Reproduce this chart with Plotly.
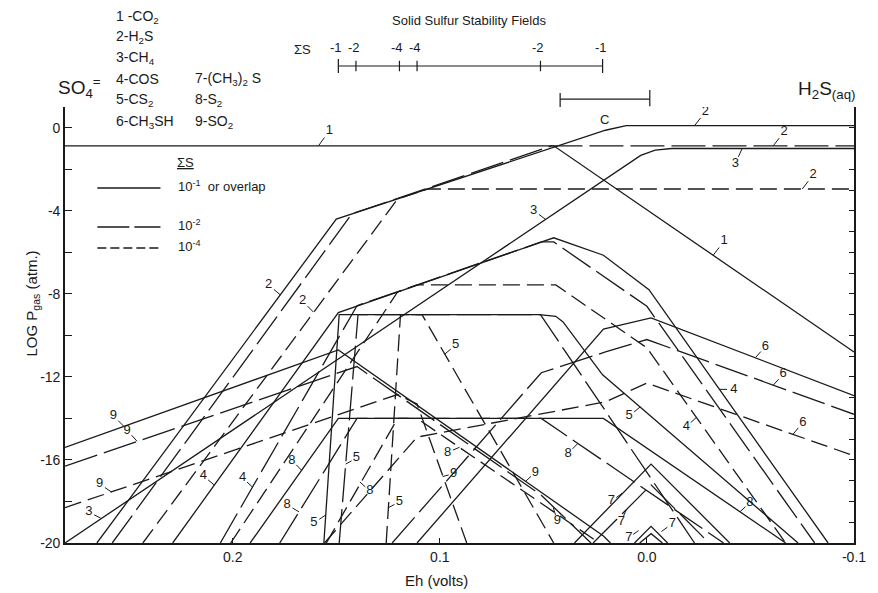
import plotly.graph_objects as go

# ---------------- axes ----------------
EH_RANGE = [0.281, -0.1]
LP_RANGE = [-20, 1.0]
x_tick_vals = [0.2, 0.1, 0.0, -0.1]
x_tick_text = ["0.2", "0.1", "0.0", "-0.1"]
y_tick_vals = [-20, -18, -16, -14, -12, -10, -8, -6, -4, -2, 0]
y_tick_text = ["-20", "", "-16", "", "-12", "", "-8", "", "-4", "", "0"]
y2_tick_vals = list(range(-19, 1))

# solid sulfur stability field boundaries (Eh) and carbon field
sfield_text = ["-1", "-2", "-4", "-4", "-2", "-1"]
sfield_eh = [0.149, 0.1405, 0.1195, 0.111, 0.0514, 0.0214]
cfield_eh = [0.0419, -0.0014]

# ---------------- curves (Eh, log P) ----------------
# 1 CO2
co2_eh = [0.281, 0.045, -0.1]
co2_lp = [-0.87, -0.87, -10.8]
# 2 H2S
h2s_1_eh = [0.2656, 0.150, 0.020, 0.010, -0.1]
h2s_1_lp = [-20, -4.4, -0.12, 0.1, 0.1]
h2s_2_eh = [0.2582, 0.1425, 0.046, -0.1]
h2s_2_lp = [-20, -4.15, -0.87, -0.87]
h2s_4_eh = [0.2434, 0.1204, 0.106, -0.1]
h2s_4_lp = [-20, -3.43, -2.95, -2.95]
# 3 CH4
ch4_eh = [0.281, 0.107, 0.003, -0.004, -0.012, -0.1]
ch4_lp = [-20, -8.3, -1.33, -1.08, -1.0, -1.0]
# 9 SO2
so2_1_eh = [0.281, 0.149, 0.021, 0.0176]
so2_1_lp = [-15.4, -10.7, -19.66, -20]
so2_2_eh = [0.281, 0.140, 0.051, 0.027]
so2_2_lp = [-16.3, -11.5, -17.7, -20]
so2_4_eh = [0.281, 0.1204, 0.111, 0.087]
so2_4_lp = [-18.3, -12.85, -13.3, -20]
# 8 S2
s2_1_eh = [0.1916, 0.149, 0.021, -0.067]
s2_1_lp = [-20, -14, -14, -20]
s2_2_eh = [0.1773, 0.140, 0.051, -0.037]
s2_2_lp = [-20, -14, -14, -20]
s2_4_eh = [0.1548, 0.1204, 0.111, 0.023]
s2_4_lp = [-20, -14, -14, -20]
# 5 CS2
cs2_1_eh = [0.156, 0.1486, 0.052, 0.044, 0.0405, 0.0214, 0.0033, -0.073]
cs2_1_lp = [-20, -9.0, -9.0, -9.08, -9.35, -11.9, -13.45, -20]
cs2_2_eh = [0.1486, 0.1395, 0.0514, -0.023]
cs2_2_lp = [-20, -9.0, -9.0, -20]
cs2_4_eh = [0.1259, 0.119, 0.1086, 0.045]
cs2_4_lp = [-20, -9.0, -9.0, -20]
# 4 COS
cos_1_eh = [0.229, 0.149, 0.045, 0.021, -0.001, -0.0875]
cos_1_lp = [-20, -8.9, -5.3, -6.14, -7.8, -20]
cos_2_eh = [0.206, 0.140, 0.051, 0.045, 0.0, -0.081]
cos_2_lp = [-20, -8.57, -5.5, -5.5, -8.6, -20]
cos_4_eh = [0.201, 0.1204, 0.111, 0.044, 0.0, -0.067]
cos_4_lp = [-20, -7.91, -7.57, -7.57, -10.6, -20]
# 6 CH3SH
ch3sh_1_eh = [0.111, 0.021, -0.002, -0.1]
ch3sh_1_lp = [-20, -9.7, -9.16, -12.9]
ch3sh_2_eh = [0.123, 0.051, 0.02, 0.0, -0.1]
ch3sh_2_lp = [-20, -11.8, -10.8, -10.2, -13.8]
ch3sh_4_eh = [0.1557, 0.111, 0.02, 0.0, -0.1]
ch3sh_4_lp = [-20, -14.9, -13.2, -12.3, -15.8]
# 7 (CH3)2S
dms_1_eh = [0.035, -0.002, -0.040]
dms_1_lp = [-20, -16.2, -20]
dms_2_eh = [0.026, -0.002, -0.030]
dms_2_lp = [-20, -17.2, -20]
dms_4_eh = [0.006, -0.002, -0.010]
dms_4_lp = [-20, -19.2, -20]
dms_4b_eh = [0.0035, -0.002, -0.0075]
dms_4b_lp = [-20, -19.55, -20]

# curve labels: text, Eh, logP of the point on the curve
lbl_text = ["1", "1", "2", "2", "3", "2", "3", "2", "2",
            "9", "9", "9", "3", "4", "4", "8", "8", "5", "5", "8", "5",
            "8", "9", "5", "9", "8", "9", "7", "7", "7", "7", "8",
            "5", "4", "4", "6", "6", "6"]
lbl_eh = [0.1586, -0.032, -0.023, -0.061, -0.046, -0.075, 0.049, 0.177, 0.161,
          0.2524, 0.2462, 0.2586, 0.2638, 0.209, 0.1905, 0.1667, 0.168, 0.1551, 0.1455, 0.1386, 0.1248,
          0.0905, 0.0986, 0.0976, 0.0586, 0.0333, 0.0452, 0.0119, 0.010, 0.004, -0.007, -0.045,
          0.0033, -0.0348, -0.0238, -0.0524, -0.061, -0.0705]
lbl_lp = [-0.87, -6.14, 0.1, -0.87, -1.0, -2.95, -4.41, -8.05, -8.88,
          -14.4, -15.1, -17.54, -18.8, -17.2, -17.3, -16.5, -18.5, -18.65, -16.2, -17.06, -18.3,
          -15.39, -16.8, -10.9, -17.03, -15.2, -18.3, -17.6, -18.4, -19.4, -19.45, -18.49,
          -13.45, -12.6, -13.96, -11.07, -12.4, -14.77]
# label offset from the curve point, in screen pixels (right, down)
lbl_dx = [11, 11, 11, 11, -7, 11, -12, -12, -11,
          -11, -10, -12, -12, -11, -10, -10, -12, -12, 11, 10, 11,
          -12, 11, 11, 10, -10, 4, -11, -5, -10, 11, 10,
          -11, 15, -10, 10, 10, 10]
lbl_dy = [-15, -14, -14, -14, 15, -14, -9, -10, -11,
          -11, -11, -8, -6, -9, -9, -10, -7, 8, -6, 9, -6,
          5, -3, -9, -9, 10, 13, 8, 12, 7, -8, -9,
          9, 0, 9, -11, -11, -12]

# ---------------- styles ----------------
INK = "#1a1a1a"
LW = 1.3
D1 = "solid"
D2 = "34px,7px"
D4 = "17px,7px"
LEG_DASH = ["solid", "32px,5px", "9px,4px"]
FONT = "Liberation Sans, Arial, sans-serif"

PLOT_W, PLOT_H = 800, 436
EH_PER_PX = (EH_RANGE[0] - EH_RANGE[1]) / PLOT_W
LP_PER_PX = (LP_RANGE[1] - LP_RANGE[0]) / PLOT_H

curves = [
    (co2_eh, co2_lp, D1),
    (h2s_1_eh, h2s_1_lp, D1), (h2s_2_eh, h2s_2_lp, D2), (h2s_4_eh, h2s_4_lp, D4),
    (ch4_eh, ch4_lp, D1),
    (so2_1_eh, so2_1_lp, D1), (so2_2_eh, so2_2_lp, D2), (so2_4_eh, so2_4_lp, D4),
    (s2_1_eh, s2_1_lp, D1), (s2_2_eh, s2_2_lp, D2), (s2_4_eh, s2_4_lp, D4),
    (cs2_1_eh, cs2_1_lp, D1), (cs2_2_eh, cs2_2_lp, D2), (cs2_4_eh, cs2_4_lp, D4),
    (cos_1_eh, cos_1_lp, D1), (cos_2_eh, cos_2_lp, D2), (cos_4_eh, cos_4_lp, D4),
    (ch3sh_1_eh, ch3sh_1_lp, D1), (ch3sh_2_eh, ch3sh_2_lp, D2), (ch3sh_4_eh, ch3sh_4_lp, D4),
    (dms_1_eh, dms_1_lp, D1), (dms_2_eh, dms_2_lp, D2), (dms_4_eh, dms_4_lp, D1), (dms_4b_eh, dms_4b_lp, D1),
]

fig = go.Figure()
for xs, ys, dash in curves:
    fig.add_trace(go.Scatter(x=xs, y=ys, mode="lines", hoverinfo="skip",
                             line=dict(color=INK, width=LW, dash=dash)))

# curve labels: text placed at a pixel offset, plus a short leader tick
lab_x, lab_y, tick_x, tick_y = [], [], [], []
for x, y, dx, dy in zip(lbl_eh, lbl_lp, lbl_dx, lbl_dy):
    lx = x - dx * EH_PER_PX
    ly = y - dy * LP_PER_PX
    lab_x.append(lx)
    lab_y.append(ly)
    f = 0.55
    tick_x += [x, x + (lx - x) * f, None]
    tick_y += [y, y + (ly - y) * f, None]
fig.add_trace(go.Scatter(x=tick_x, y=tick_y, mode="lines", hoverinfo="skip",
                         line=dict(color=INK, width=1)))
fig.add_trace(go.Scatter(x=lab_x, y=lab_y, mode="text", text=lbl_text, hoverinfo="skip",
                         textposition="middle center",
                         textfont=dict(size=13, color=INK, family=FONT)))
# right-hand axis carrier
fig.add_trace(go.Scatter(x=[None], y=[None], yaxis="y2", mode="lines", hoverinfo="skip"))

ann = []


def ptext(x, y, t, size=13, anchor="center", xref="paper"):
    ann.append(dict(x=x, y=y, xref=xref, yref="paper", text=t, showarrow=False,
                    xanchor=anchor, yanchor="middle", font=dict(size=size, color=INK, family=FONT)))


# species list
species_left = ["1 -CO<sub>2</sub>", "2-H<sub>2</sub>S", "3-CH<sub>4</sub>", "4-COS",
                "5-CS<sub>2</sub>", "6-CH<sub>3</sub>SH"]
species_right = ["7-(CH<sub>3</sub>)<sub>2</sub> S", "8-S<sub>2</sub>", "9-SO<sub>2</sub>"]
rows_y = [1.2064, 1.1606, 1.1124, 1.0642, 1.016, 0.9656]
for t, yy in zip(species_left, rows_y):
    ptext(0.0625, yy, t, 14, "left")
for t, yy in zip(species_right, rows_y[3:]):
    ptext(0.1625, yy, t, 14, "left")

ptext(0.019, 1.0436, "SO<sub>4</sub><sup>=</sup>", 19)
ptext(0.965, 1.039, "H<sub>2</sub>S<sub>(aq)</sub>", 19)
ptext(0.5125, 1.1995, "Solid Sulfur Stability Fields", 13)
ptext(0.301, 1.133, "ΣS", 13)
for t, x in zip(sfield_text, sfield_eh):
    ann.append(dict(x=x, y=1.137, xref="x", yref="paper", text=t, showarrow=False,
                    xanchor="center", yanchor="middle", xshift=-2,
                    font=dict(size=13, color=INK, family=FONT)))
ann.append(dict(x=(cfield_eh[0] + cfield_eh[1]) / 2, y=0.993, xref="x", yref="paper", text="C",
                showarrow=False, font=dict(size=13, color=INK, family=FONT)))

# legend for ΣS
ptext(0.1525, 0.8716, "<u>ΣS</u>", 13)
leg_y = [0.8142, 0.7248, 0.6766]
leg_txt = ["10<sup>-1</sup>  or overlap", "10<sup>-2</sup>", "10<sup>-4</sup>"]
shapes = []
for yy, t, d in zip(leg_y, leg_txt, LEG_DASH):
    shapes.append(dict(type="line", xref="paper", yref="paper", x0=0.041, x1=0.121, y0=yy, y1=yy,
                       line=dict(color=INK, width=LW, dash=d)))
    ptext(0.141, yy + 0.004, t, 13, "left")

# axis titles
ptext(0.471, -0.086, "Eh (volts)", 15)
ann.append(dict(x=-0.056, y=0.55, xref="paper", yref="paper", text="LOG P<sub>gas</sub> (atm.)",
                showarrow=False, textangle=-90, font=dict(size=15, color=INK, family=FONT)))

# solid sulfur bracket
shapes.append(dict(type="line", xref="x", yref="paper", x0=sfield_eh[0], x1=sfield_eh[-1],
                   y0=1.094, y1=1.094, line=dict(color=INK, width=1.2)))
for i, x in enumerate(sfield_eh):
    y0, y1 = (1.078, 1.110) if i in (0, len(sfield_eh) - 1) else (1.082, 1.106)
    shapes.append(dict(type="line", xref="x", yref="paper", x0=x, x1=x, y0=y0, y1=y1,
                       line=dict(color=INK, width=1.2)))
# carbon bracket
shapes.append(dict(type="line", xref="x", yref="paper", x0=cfield_eh[0], x1=cfield_eh[1],
                   y0=1.018, y1=1.018, line=dict(color=INK, width=1.2)))
shapes.append(dict(type="line", xref="x", yref="paper", x0=cfield_eh[0], x1=cfield_eh[0],
                   y0=1.0, y1=1.032, line=dict(color=INK, width=1.2)))
shapes.append(dict(type="line", xref="x", yref="paper", x0=cfield_eh[1], x1=cfield_eh[1],
                   y0=1.002, y1=1.039, line=dict(color=INK, width=1.2)))

# the page body adds an 8 px offset, so the figure is 8 px smaller and margins shifted
fig.update_layout(
    width=870, height=585, margin=dict(l=57, r=13, t=99, b=50),
    plot_bgcolor="white", paper_bgcolor="white", showlegend=False,
    font=dict(family=FONT, size=14, color=INK),
    xaxis=dict(range=EH_RANGE, showline=True, linecolor=INK, linewidth=1.6, ticks="inside",
               ticklen=5, tickcolor=INK, tickvals=x_tick_vals, ticktext=x_tick_text,
               showgrid=False, zeroline=False, tickfont=dict(size=14)),
    yaxis=dict(range=LP_RANGE, showline=True, linecolor=INK, linewidth=1.6, ticks="inside",
               ticklen=7, tickcolor=INK, tickvals=y_tick_vals, ticktext=y_tick_text,
               showgrid=False, zeroline=False, tickfont=dict(size=14)),
    yaxis2=dict(range=LP_RANGE, overlaying="y", side="right", showline=True, linecolor=INK,
                linewidth=1.6, ticks="inside", ticklen=5, tickcolor=INK, tickvals=y2_tick_vals,
                showticklabels=False, showgrid=False, zeroline=False),
    annotations=ann, shapes=shapes,
)

fig.write_html("out.html")
